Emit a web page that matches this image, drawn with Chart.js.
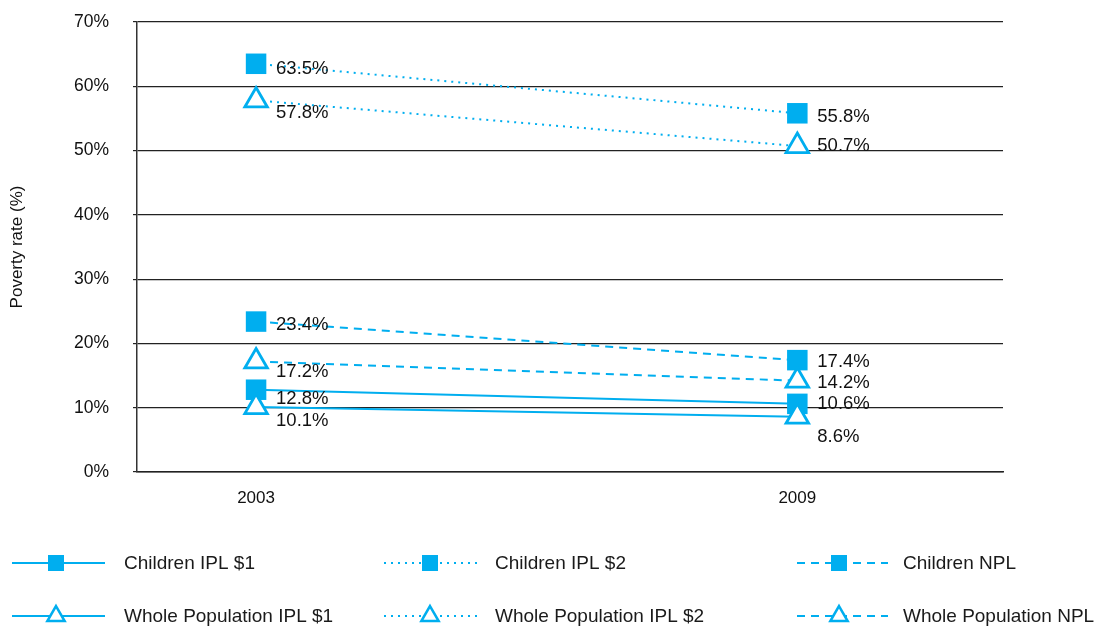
<!DOCTYPE html>
<html>
<head>
<meta charset="utf-8">
<script src="https://cdn.jsdelivr.net/npm/chart.js@4/dist/chart.umd.min.js"></script>
<style>
  html, body { margin: 0; padding: 0; background: #fff; }
  #wrap { width: 1102px; height: 627px; }
</style>
</head>
<body>
<div id="wrap"><canvas id="chart"></canvas></div>
<script>
const years = [2003, 2009];
const seriesNames = [
  'Children IPL $1', 'Children IPL $2', 'Children NPL',
  'Whole Population IPL $1', 'Whole Population IPL $2', 'Whole Population NPL'
];
const childrenIpl1 = [12.8, 10.6];
const childrenIpl2 = [63.5, 55.8];
const childrenNpl = [23.4, 17.4];
const wholeIpl1 = [10.1, 8.6];
const wholeIpl2 = [57.8, 50.7];
const wholeNpl = [17.2, 14.2];
const yTicks = [0, 10, 20, 30, 40, 50, 60, 70];

const BLUE = '#00aeef';
const FONT = '"Liberation Sans", Arial, sans-serif';
const DOTTED = [2, 5];
const DASHED = [8, 6];

function series(label, values, marker, dash, labelDy) {
  return {
    label,
    data: values.map((v, i) => ({ x: years[i], y: v })),
    borderColor: BLUE,
    borderWidth: 2,
    borderDash: dash,
    pointStyle: marker,
    pointRadius: marker === 'rect' ? 14.5 : 13,
    pointHoverRadius: marker === 'rect' ? 14.5 : 13,
    pointBackgroundColor: marker === 'rect' ? BLUE : '#fff',
    pointBorderColor: BLUE,
    pointBorderWidth: marker === 'rect' ? 0 : 2.8,
    labelDy: labelDy,
    tension: 0
  };
}

// whole population first so the children's squares sit on top
const datasets = [
  series(seriesNames[4], wholeIpl2, 'triangle', DOTTED, [12, 0]),
  series(seriesNames[5], wholeNpl, 'triangle', DASHED, [10, 2]),
  series(seriesNames[3], wholeIpl1, 'triangle', [], [14, 20]),
  series(seriesNames[1], childrenIpl2, 'rect', DOTTED, [5, 4]),
  series(seriesNames[2], childrenNpl, 'rect', DASHED, [3, 2]),
  series(seriesNames[0], childrenIpl1, 'rect', [], [9, 0])
];

// value labels to the right of each marker
const valueLabels = {
  id: 'valueLabels',
  afterDatasetsDraw(chart) {
    const ctx = chart.ctx;
    ctx.save();
    ctx.font = '18.5px ' + FONT;
    ctx.fillStyle = '#111';
    ctx.textAlign = 'left';
    ctx.textBaseline = 'middle';
    chart.data.datasets.forEach((ds, di) => {
      chart.getDatasetMeta(di).data.forEach((pt, i) => {
        ctx.fillText(ds.data[i].y.toFixed(1) + '%', pt.x + 20, pt.y + ds.labelDy[i]);
      });
    });
    ctx.restore();
  }
};

// legend in two rows of three, line sample with a marker in the middle
const legendEntries = [
  { name: seriesNames[0], marker: 'rect', dash: [] },
  { name: seriesNames[1], marker: 'rect', dash: DOTTED },
  { name: seriesNames[2], marker: 'rect', dash: DASHED },
  { name: seriesNames[3], marker: 'triangle', dash: [] },
  { name: seriesNames[4], marker: 'triangle', dash: DOTTED },
  { name: seriesNames[5], marker: 'triangle', dash: DASHED }
];
const legendCols = [
  { x0: 12, x1: 105, mx: 56, tx: 124 },
  { x0: 384, x1: 480, mx: 430, tx: 495 },
  { x0: 797, x1: 888, mx: 839, tx: 903 }
];
const legendRows = [563, 616];

const bottomLegend = {
  id: 'bottomLegend',
  afterDraw(chart) {
    const ctx = chart.ctx;
    ctx.save();
    legendEntries.forEach((e, k) => {
      const col = legendCols[k % 3];
      const y = legendRows[Math.floor(k / 3)];
      ctx.strokeStyle = BLUE;
      ctx.lineWidth = 2;
      ctx.setLineDash(e.dash);
      ctx.beginPath();
      ctx.moveTo(col.x0, y);
      ctx.lineTo(col.x1, y);
      ctx.stroke();
      ctx.setLineDash([]);
      if (e.marker === 'rect') {
        ctx.fillStyle = BLUE;
        ctx.fillRect(col.mx - 8, y - 8, 16, 16);
      } else {
        const r = 10;
        ctx.fillStyle = '#fff';
        ctx.lineWidth = 2.5;
        ctx.beginPath();
        ctx.moveTo(col.mx, y - r);
        ctx.lineTo(col.mx + r * 0.866, y + r / 2);
        ctx.lineTo(col.mx - r * 0.866, y + r / 2);
        ctx.closePath();
        ctx.fill();
        ctx.stroke();
      }
      ctx.fillStyle = '#1a1a1a';
      ctx.font = '19px ' + FONT;
      ctx.textAlign = 'left';
      ctx.textBaseline = 'middle';
      ctx.fillText(e.name, col.tx, y + 1);
    });
    ctx.restore();
  }
};

new Chart(document.getElementById('chart'), {
  type: 'line',
  data: { datasets },
  plugins: [valueLabels, bottomLegend],
  options: {
    responsive: true,
    maintainAspectRatio: false,
    animation: false,
    layout: { padding: { top: 22, right: 99, bottom: 120, left: 0 } },
    plugins: {
      legend: { display: false },
      tooltip: { enabled: false }
    },
    scales: {
      x: {
        type: 'linear',
        min: 2001.68,
        max: 2011.28,
        afterBuildTicks: axis => { axis.ticks = years.map(v => ({ value: v })); },
        afterFit: axis => { axis.height = 35; },
        ticks: {
          color: '#111',
          font: { family: FONT, size: 17 },
          padding: 16,
          callback: v => String(v)
        },
        grid: { display: false, drawTicks: false },
        border: { display: true, color: '#222', width: 1.5 }
      },
      y: {
        min: 0,
        max: 70,
        afterBuildTicks: axis => { axis.ticks = yTicks.map(v => ({ value: v })); },
        afterFit: axis => {
          axis.width = 137;
          axis.paddingTop = 0;
          axis.paddingBottom = 0;
        },
        ticks: {
          color: '#111',
          font: { family: FONT, size: 17.5 },
          padding: 24,
          callback: v => v + '%'
        },
        grid: { color: '#222', lineWidth: 1.2, tickLength: 4 },
        border: { display: true, color: '#333', width: 1.5 },
        title: {
          display: true,
          text: 'Poverty rate (%)',
          color: '#111',
          font: { family: FONT, size: 17 },
          padding: { top: 7, bottom: 0 }
        }
      }
    }
  }
});
</script>
</body>
</html>
